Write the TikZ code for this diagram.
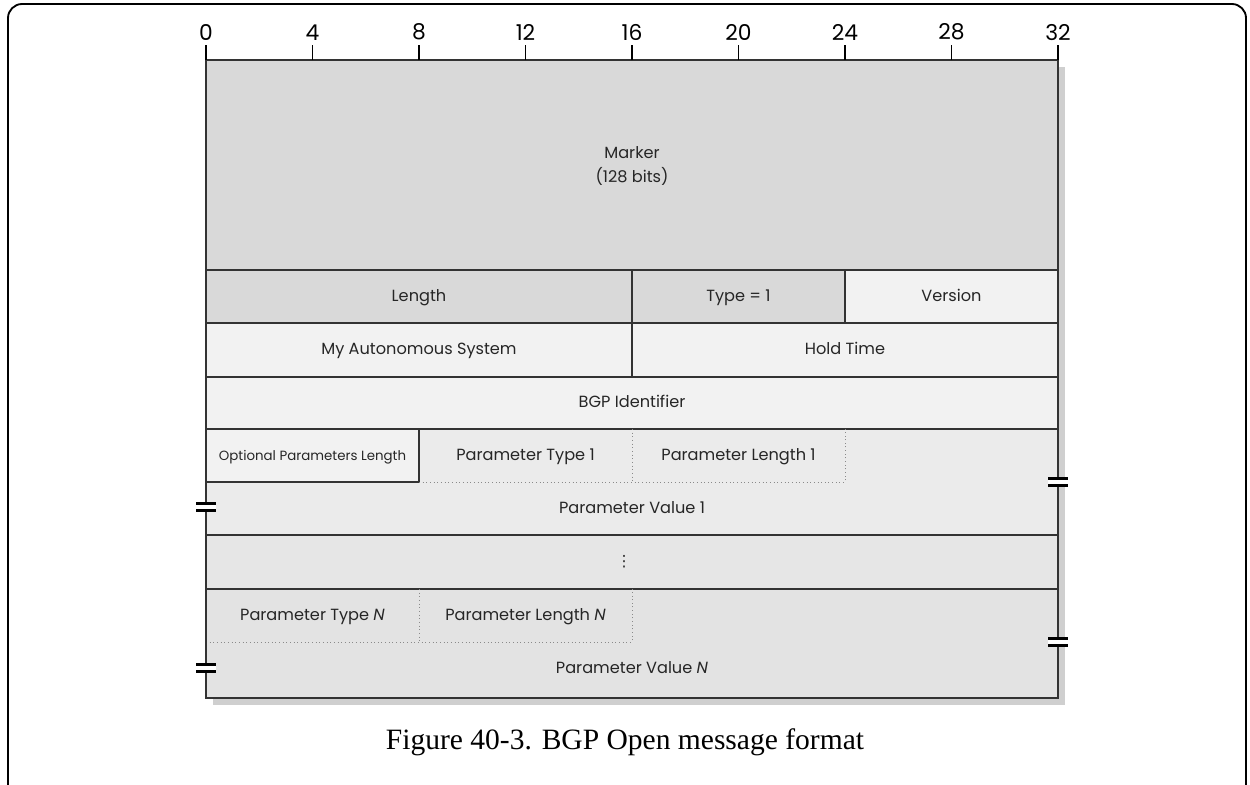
\documentclass[tikz,border=0pt]{standalone}
\usepackage{fontspec}
\setmainfont{Liberation Serif}
\newfontfamily\fieldfont{Poppins}
\newfontfamily\symfont{DejaVu Sans}
\usetikzlibrary{positioning}
\definecolor{cDark}{HTML}{D9D9D9}
\definecolor{cLight}{HTML}{F2F2F2}
\definecolor{cParam}{HTML}{EBEBEB}
\definecolor{cDots}{HTML}{E6E6E6}
\definecolor{cParamN}{HTML}{E3E3E3}
\definecolor{cShadow}{HTML}{CFCFCF}
\definecolor{cLine}{HTML}{333333}
\definecolor{cDotLine}{HTML}{8A8A8A}
\tikzset{
  field/.style={font=\fieldfont\fontsize{11.5}{13}\selectfont,text=black!85,inner sep=0pt,
    text height=8.5pt,text depth=2.5pt},
  bitnum/.style={font=\fieldfont\fontsize{15.5}{17}\selectfont,anchor=south,inner sep=1pt},
  sep/.style={cLine,line width=1pt},
  subsep/.style={cDotLine,dotted,line width=0.6pt},
}
\begin{document}
\begin{tikzpicture}[x=0.025cm,y=-0.025cm]
  \useasboundingbox (0,0) rectangle (1250,784);
  \def\xl{206}\def\xr{1058}\def\bw{26.625}
  \def\ra{60}\def\rb{270}\def\rc{323}\def\rd{377}\def\re{429}
  \def\rf{482}\def\rg{535}\def\rh{589}\def\ri{642}\def\rj{698}
  % page frame
  \draw[line width=1.3pt,rounded corners=10] (8,800) -- (8,4) -- (1246,4) -- (1246,800);
  % shadow and field fills
  \fill[cShadow] (\xl+7,\ra+7) rectangle (\xr+7,\rj+7);
  \fill[cDark] (\xl,\ra) rectangle (\xr,\rb);
  \fill[cDark] (\xl,\rb) rectangle ({\xl+24*\bw},\rc);
  \fill[cLight] ({\xl+24*\bw},\rb) rectangle (\xr,\rc);
  \fill[cLight] (\xl,\rc) rectangle (\xr,\re);
  \fill[cParam] (\xl,\re) rectangle (\xr,\rg);
  \fill[cLight] (\xl,\re) rectangle ({\xl+8*\bw},\rf);
  \fill[cDots] (\xl,\rg) rectangle (\xr,\rh);
  \fill[cParamN] (\xl,\rh) rectangle (\xr,\rj);
  % solid separators
  \foreach \r in {\rb,\rc,\rd,\re,\rg,\rh}
    \draw[sep] (\xl,\r) -- (\xr,\r);
  \draw[sep] ({\xl+16*\bw},\rb) -- ({\xl+16*\bw},\rd);
  \draw[sep] ({\xl+24*\bw},\rb) -- ({\xl+24*\bw},\rc);
  \draw[sep] (\xl,\rf) -- ({\xl+8*\bw},\rf) -- ({\xl+8*\bw},\re);
  % dotted sub-fields
  \draw[subsep] ({\xl+8*\bw},\rf) -- ({\xl+24*\bw},\rf) -- ({\xl+24*\bw},\re);
  \draw[subsep] ({\xl+16*\bw},\re) -- ({\xl+16*\bw},\rf);
  \draw[subsep] (\xl,\ri) -- ({\xl+16*\bw},\ri) -- ({\xl+16*\bw},\rh);
  \draw[subsep] ({\xl+8*\bw},\rh) -- ({\xl+8*\bw},\ri);
  % outline and ruler
  \draw[cLine,line width=1.6pt] (\xl,\ra) rectangle (\xr,\rj);
  \foreach \b in {0,4,...,32} {
    \draw[line width=1.1pt] ({\xl+\b*\bw},\ra) -- ({\xl+\b*\bw},45);
    \node[bitnum] (bit\b) at ({\xl+\b*\bw},42) {\b};
  }
  % break marks
  \foreach \x/\y in {\xl/507,\xr/482,\xl/668,\xr/642} {
    \fill[white] (\x-10,\y-3.5) rectangle (\x+10,\y+3.5);
    \draw[line width=1.5pt] (\x-10,\y-3.5) -- (\x+10,\y-3.5) (\x-10,\y+3.5) -- (\x+10,\y+3.5);
  }
  % labels
  \node[field,align=center,text height=,text depth=] (marker) at ({\xl+16*\bw},166) {Marker\\[4pt](128 bits)};
  \node[field] (len) at ({\xl+8*\bw},297) {Length};
  \node[field] (type) at ({\xl+20*\bw},297) {Type = 1};
  \node[field] (ver) at ({\xl+28*\bw},297) {Version};
  \node[field] (myas) at ({\xl+8*\bw},350) {My Autonomous System};
  \node[field] (hold) at ({\xl+24*\bw},350) {Hold Time};
  \node[field] (bgpid) at ({\xl+16*\bw},403) {BGP Identifier};
  \node[field,font=\fieldfont\fontsize{9.5}{11}\selectfont] (optlen) at ({\xl+4*\bw},456) {Optional Parameters Length};
  \node[field] (ptype1) at ({\xl+12*\bw},456) {Parameter Type 1};
  \node[field] (plen1) at ({\xl+20*\bw},456) {Parameter Length 1};
  \node[field] (pval1) at ({\xl+16*\bw},509) {Parameter Value 1};
  \node[field,font=\symfont\fontsize{11}{13}\selectfont] (dots) at (624,562) {⋮};
  \node[field] (ptypeN) at ({\xl+4*\bw},616) {Parameter Type \emph{N}};
  \node[field] (plenN) at ({\xl+12*\bw},616) {Parameter Length \emph{N}};
  \node[field] (pvalN) at ({\xl+16*\bw},669) {Parameter Value \emph{N}};
  \node[font=\fontsize{21}{24}\selectfont] (caption) at (625,742) {Figure 40-3. BGP Open message format};
\end{tikzpicture}
\end{document}
